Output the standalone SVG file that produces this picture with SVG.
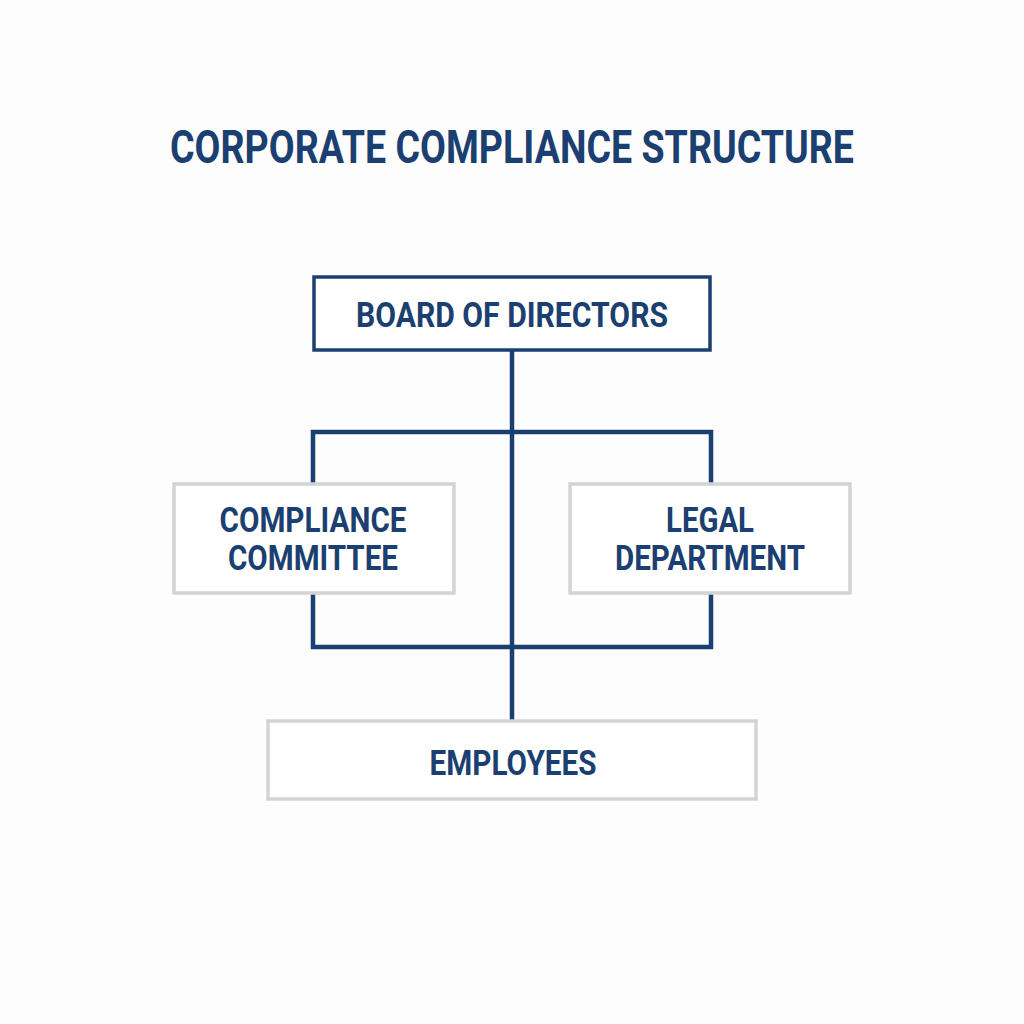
<svg xmlns="http://www.w3.org/2000/svg" width="1024" height="1024" viewBox="0 0 1024 1024">
<style>
.t{font-family:Roboto,"Liberation Sans",sans-serif;font-weight:bold;fill:#1b3f70;text-anchor:middle}
.main{fill:#ffffff;stroke:#1b3f70;stroke-width:3.5}
.sub{fill:#ffffff;stroke:#d3d3d3;stroke-width:3.5}
.c{fill:none;stroke:#1b3f70;stroke-width:4.5;stroke-linejoin:miter}
</style>
<rect width="1024" height="1024" fill="#fdfdfd"/>
<text id="title" class="t" x="512" y="163" font-size="47" textLength="684" lengthAdjust="spacingAndGlyphs">CORPORATE COMPLIANCE STRUCTURE</text>
<g id="connectors">
<path class="c" d="M512 350 V720"/>
<path class="c" d="M313 483 V432 H711 V483"/>
<path class="c" d="M313 593 V647 H711 V593"/>
</g>
<g id="board">
<rect class="main" x="314" y="277" width="396" height="73"/>
<text class="t" x="512" y="327" font-size="35" textLength="312" lengthAdjust="spacingAndGlyphs">BOARD OF DIRECTORS</text>
</g>
<g id="compliance">
<rect class="sub" x="174" y="484" width="280" height="109"/>
<text class="t" x="313" y="532" font-size="35" textLength="187" lengthAdjust="spacingAndGlyphs">COMPLIANCE</text>
<text class="t" x="313" y="570" font-size="35" textLength="170" lengthAdjust="spacingAndGlyphs">COMMITTEE</text>
</g>
<g id="legal">
<rect class="sub" x="570" y="484" width="280" height="109"/>
<text class="t" x="710" y="532" font-size="35" textLength="88" lengthAdjust="spacingAndGlyphs">LEGAL</text>
<text class="t" x="710" y="570" font-size="35" textLength="190" lengthAdjust="spacingAndGlyphs">DEPARTMENT</text>
</g>
<g id="employees">
<rect class="sub" x="268" y="721" width="488" height="78"/>
<text class="t" x="513" y="775" font-size="35" textLength="167" lengthAdjust="spacingAndGlyphs">EMPLOYEES</text>
</g>
</svg>
